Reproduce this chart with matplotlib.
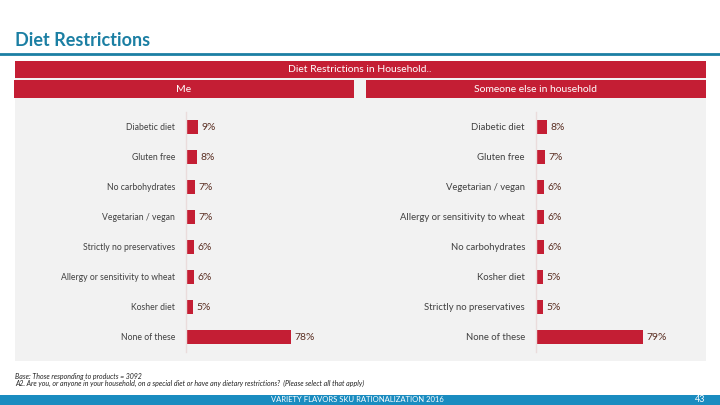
import matplotlib
matplotlib.use("Agg")
import matplotlib.pyplot as plt
from matplotlib.patches import Rectangle

plt.rcParams['font.family'] = ['Lato', 'DejaVu Sans']

me_labels = ["Diabetic diet", "Gluten free", "No carbohydrates", "Vegetarian / vegan",
             "Strictly no preservatives", "Allergy or sensitivity to wheat", "Kosher diet", "None of these"]
me_values = [9, 8, 7, 7, 6, 6, 5, 78]

else_labels = ["Diabetic diet", "Gluten free", "Vegetarian / vegan", "Allergy or sensitivity to wheat",
               "No carbohydrates", "Kosher diet", "Strictly no preservatives", "None of these"]
else_values = [8, 7, 6, 6, 6, 5, 5, 79]

W, H = 720, 405
RED = "#C41E34"
TEAL = "#1B7FA3"
FOOT = "#1A8CC0"
GREY = "#F2F2F2"

fig = plt.figure(figsize=(7.2, 4.05), dpi=100)

def fx(x): return x / W
def fy(y): return 1 - y / H

def rect(x0, y0, x1, y1, color, z=0):
    fig.patches.append(Rectangle((fx(x0), fy(y1)), fx(x1) - fx(x0), fy(y0) - fy(y1),
                                 transform=fig.transFigure, facecolor=color, edgecolor='none', zorder=z))

# title and rule
fig.text(fx(15), fy(40), "Diet Restrictions", color=TEAL, fontsize=13, fontweight='bold',
         ha='left', va='center')
fig.add_artist(plt.Line2D([0, 1], [fy(54), fy(54)], color=TEAL, lw=2, transform=fig.transFigure))

# panel
rect(15, 78, 706, 361, GREY, -1)
rect(15, 61, 706, 78, RED, 1)
rect(14, 80, 354, 98, RED, 1)
rect(366, 80, 706, 98, RED, 1)
fig.text(fx(360), fy(70), "Diet Restrictions in Household..", color='white', fontsize=7.5,
         ha='center', va='center')
fig.text(fx(184), fy(89), "Me", color='white', fontsize=7.5, ha='center', va='center')
fig.text(fx(536), fy(89), "Someone else in household", color='white', fontsize=7.5,
         ha='center', va='center')

def panel(x_axis, labels, values, lab_fs):
    ax = fig.add_axes([fx(x_axis), fy(352), fx(135), (240) / H])
    ax.set_zorder(3)
    ax.set_facecolor('none')
    ax.patch.set_alpha(0)
    n = len(values)
    ys = list(range(n))
    ax.barh(ys, values, height=0.47, color=RED)
    ax.set_xlim(0, 100)
    ax.set_ylim(n - 0.5, -0.5)
    for s in ['top', 'right', 'bottom']:
        ax.spines[s].set_visible(False)
    ax.spines['left'].set_color('#EADCDC')
    ax.spines['left'].set_linewidth(1)
    ax.set_xticks([])
    ax.set_yticks(ys)
    ax.set_yticklabels(labels, fontsize=lab_fs, color='#404040')
    ax.tick_params(axis='y', length=0, pad=8)
    for y, v in zip(ys, values):
        ax.text(v + 2.5, y, f"{v}%", va='center', ha='left', fontsize=7.5, color='#5A2E22')
    return ax

panel(186, me_labels, me_values, 6.2)
panel(536, else_labels, else_values, 6.8)

# notes
fig.text(fx(15), fy(376), "Base: Those responding to products = 3092", fontsize=5, style='italic',
         color='#222222', ha='left', va='center')
fig.text(fx(15), fy(383), "A2. Are you, or anyone in your household, on a special diet or have any dietary restrictions?  (Please select all that apply)",
         fontsize=5, style='italic', color='#222222', ha='left', va='center')

# footer
rect(0, 395, 720, 405, FOOT, 1)
fig.text(fx(357), fy(400), "VARIETY FLAVORS SKU RATIONALIZATION 2016", fontsize=5.5, color='white',
         ha='center', va='center', zorder=2)
fig.text(fx(700), fy(400), "43", fontsize=6.5, color='white', ha='center', va='center', zorder=2)

fig.savefig("out.png", dpi=100)
